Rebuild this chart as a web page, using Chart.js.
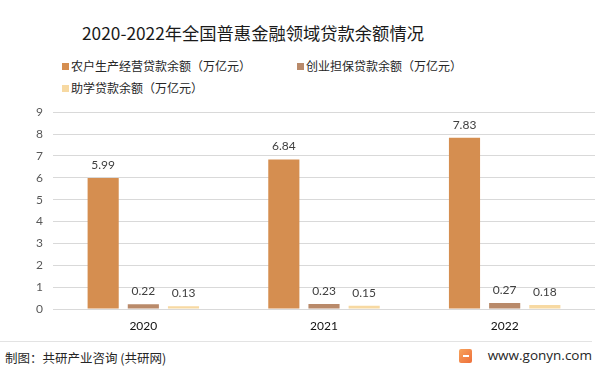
<!DOCTYPE html>
<html>
<head>
<meta charset="utf-8">
<script src="https://cdn.jsdelivr.net/npm/chart.js@4"></script>
<style>
  html, body { margin: 0; padding: 0; background: #fff; }
  body { width: 600px; height: 375px; position: relative; overflow: hidden;
         font-family: "Noto Sans CJK SC", sans-serif; }
  #title { position: absolute; left: 0; width: 506px; top: 20px; text-align: center;
           font-size: 17.3px; color: #1a1a1a; }
  .leg { position: absolute; font-size: 12px; color: #262626; line-height: 16px; white-space: nowrap; }
  .leg i { display: inline-block; width: 7px; height: 7px; margin-right: 2px; vertical-align: 1px; }
  #wrap { position: absolute; left: 0; top: 95px; width: 600px; height: 240px; }
  #rule { position: absolute; left: 0; top: 341px; width: 592px; height: 1px; background: #e3e3e3; }
  #src { position: absolute; left: 5px; top: 348px; font-size: 12.5px; color: #262626; }
  #site { position: absolute; right: 8px; top: 346px; font-size: 13.5px; color: #262626;
          font-family: "Open Sans", "Noto Sans", sans-serif; }
  #logo { position: absolute; left: 459px; top: 349px; width: 13px; height: 14px;
          background: linear-gradient(135deg, #f7a35c, #ee6f3a); border-radius: 2px; }
  #logo b { position: absolute; left: 4px; top: 6px; width: 6px; height: 2px; background: #fff; }
</style>
</head>
<body>
<div id="title">2020-2022年全国普惠金融领域贷款余额情况</div>
<div class="leg" style="left:62px; top:58px;"><i style="background:#d58e50"></i>农户生产经营贷款余额（万亿元）</div>
<div class="leg" style="left:297px; top:58px;"><i style="background:#b98a6a"></i>创业担保贷款余额（万亿元）</div>
<div class="leg" style="left:62px; top:80px;"><i style="background:#f7d9a2"></i>助学贷款余额（万亿元）</div>
<div id="wrap"><canvas id="chart"></canvas></div>
<div id="rule"></div>
<div id="src">制图：共研产业咨询 (共研网)</div>
<div id="logo"><b></b></div>
<div id="site">www.gonyn.com</div>
<script>
const years = ['2020', '2021', '2022'];
const farmLoans = [5.99, 6.84, 7.83];
const startupLoans = [0.22, 0.23, 0.27];
const studentLoans = [0.13, 0.15, 0.18];
const seriesNames = ['农户生产经营贷款余额（万亿元）', '创业担保贷款余额（万亿元）', '助学贷款余额（万亿元）'];
const seriesColors = ['#d58e50', '#b98a6a', '#f7d9a2'];
const yTicks = [0, 1, 2, 3, 4, 5, 6, 7, 8, 9];

// values above each bar
const barLabels = {
    id: 'barLabels',
    afterDatasetsDraw(chart) {
        const ctx = chart.ctx;
        ctx.save();
        ctx.font = '12px Lato, "Noto Sans", sans-serif';
        ctx.fillStyle = '#404040';
        ctx.textAlign = 'center';
        ctx.textBaseline = 'bottom';
        chart.data.datasets.forEach((ds, i) => {
            chart.getDatasetMeta(i).data.forEach((bar, j) => {
                ctx.fillText(ds.data[j].toFixed(2), bar.x, bar.y - 7);
            });
        });
        ctx.restore();
    }
};

const chartCtx = document.getElementById('chart');
new Chart(chartCtx, {
    type: 'bar',
    data: {
        labels: years,
        datasets: [farmLoans, startupLoans, studentLoans].map((d, i) => ({
            label: seriesNames[i],
            data: d,
            backgroundColor: seriesColors[i],
            categoryPercentage: 0.667,
            barPercentage: 0.775
        }))
    },
    options: {
        responsive: true,
        maintainAspectRatio: false,
        animation: false,
        layout: { padding: { top: 8, right: 5, left: 0, bottom: 0 } },
        plugins: {
            legend: { display: false },
            tooltip: { enabled: false }
        },
        scales: {
            x: {
                grid: { display: false },
                border: { display: false },
                ticks: { color: '#111', font: { size: 12, family: 'Lato, "Noto Sans", sans-serif' }, padding: 2 },
                afterFit: s => { s.height = 26; }
            },
            y: {
                min: 0,
                max: 9,
                afterBuildTicks: s => { s.ticks = yTicks.map(v => ({ value: v })); },
                grid: { color: '#d9d9d9', drawTicks: false },
                border: { display: false },
                ticks: { color: '#595959', font: { size: 12, family: 'Lato, "Noto Sans", sans-serif' }, padding: 10 },
                afterFit: s => { s.width = 53; }
            }
        }
    },
    plugins: [barLabels]
});
</script>
</body>
</html>
